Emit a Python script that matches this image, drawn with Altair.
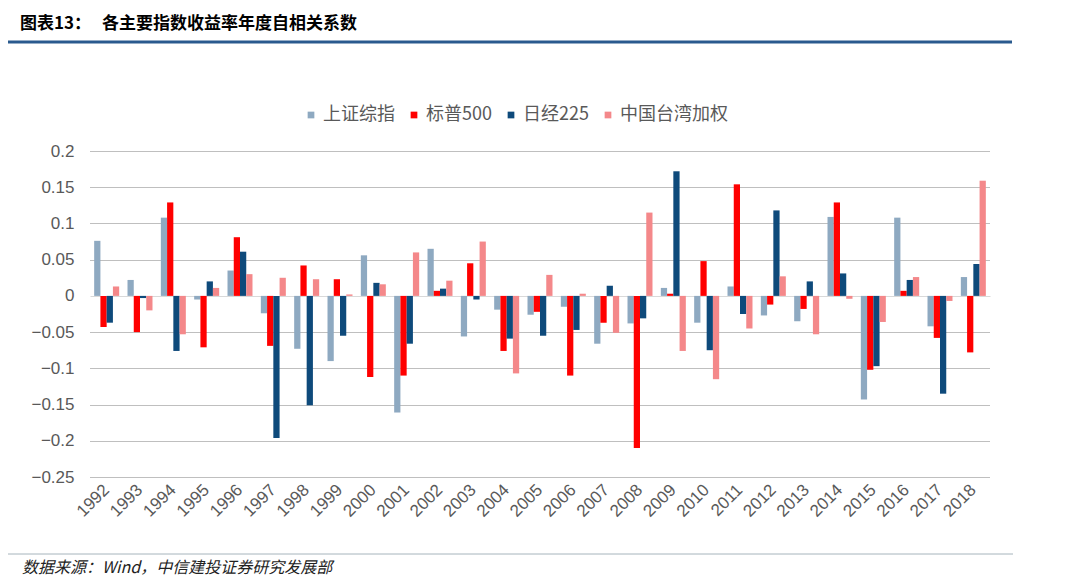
import altair as alt
import pandas as pd

years = [str(y) for y in range(1992, 2019)]
series_names = ["上证综指", "标普500", "日经225", "中国台湾加权"]
series_colors = ["#8EA9C1", "#FF0000", "#0E4A7B", "#F4888A"]

shanghai = [0.076, 0.022, 0.108, -0.005, 0.035, -0.024, -0.073, -0.090, 0.056, -0.161,
            0.065, -0.056, -0.019, -0.026, -0.015, -0.066, -0.038, 0.011, -0.037, 0.013,
            -0.027, -0.035, 0.109, -0.143, 0.108, -0.042, 0.026]
sp500 = [-0.043, -0.050, 0.129, -0.071, 0.081, -0.069, 0.042, 0.023, -0.112, -0.110,
         0.007, 0.045, -0.076, -0.022, -0.110, -0.037, -0.210, 0.003, 0.048, 0.154,
         -0.012, -0.018, 0.129, -0.102, 0.007, -0.058, -0.078]
nikkei = [-0.037, -0.003, -0.076, 0.020, 0.061, -0.196, -0.151, -0.055, 0.018, -0.066,
          0.010, -0.005, -0.059, -0.055, -0.047, 0.014, -0.031, 0.172, -0.075, -0.025,
          0.118, 0.020, 0.031, -0.097, 0.022, -0.135, 0.044]
taiwan = [0.013, -0.020, -0.053, 0.011, 0.030, 0.025, 0.023, 0.002, 0.016, 0.060,
          0.021, 0.075, -0.107, 0.029, 0.003, -0.051, 0.115, -0.076, -0.115, -0.045,
          0.027, -0.053, -0.004, -0.036, 0.026, -0.007, 0.159]

y_ticks = [0.2, 0.15, 0.1, 0.05, 0, -0.05, -0.1, -0.15, -0.2, -0.25]

title_prefix = "图表13："
title_text = "各主要指数收益率年度自相关系数"
source_text = "数据来源：Wind，中信建投证券研究发展部"

rows = []
for name, vals in zip(series_names, [shanghai, sp500, nikkei, taiwan]):
    for yr, v in zip(years, vals):
        rows.append({"year": yr, "series": name, "value": v})
df = pd.DataFrame(rows)

W, H = 900, 326

bars = alt.Chart(df).mark_bar().encode(
    x=alt.X("year:N", sort=years,
            scale=alt.Scale(paddingInner=0.25, paddingOuter=0.125),
            axis=alt.Axis(title=None, labelAngle=-45, labelAlign="right",
                          labelBaseline="middle", labelPadding=10, ticks=False,
                          domain=False, grid=False, labelFont="Liberation Sans",
                          labelFontSize=17, labelColor="#595959")),
    xOffset=alt.XOffset("series:N", sort=series_names,
                        scale=alt.Scale(paddingInner=0, paddingOuter=0)),
    y=alt.Y("value:Q",
            scale=alt.Scale(domain=[-0.25, 0.2], nice=False, zero=False),
            axis=alt.Axis(title=None, values=y_ticks, format="~g",
                          ticks=False, domain=False, labelPadding=16,
                          labelFont="Liberation Sans", labelFontSize=17,
                          labelColor="#595959",
                          grid=True, gridWidth=1,
                          gridColor={"condition": {"test": "datum.value === 0", "value": "#D9D9D9"},
                                     "value": "#7F7F7F"},
                          gridDash={"condition": {"test": "datum.value === 0", "value": []},
                                    "value": [1, 1]})),
    color=alt.Color("series:N", sort=series_names,
                    scale=alt.Scale(domain=series_names, range=series_colors),
                    legend=alt.Legend(title=None, orient="none", direction="horizontal",
                                      legendX=212, legendY=-45, symbolType="square",
                                      symbolSize=45, symbolStrokeWidth=0,
                                      labelFont="Noto Sans CJK SC", labelFontSize=18,
                                      labelColor="#595959", labelOffset=3,
                                      columnPadding=10, padding=0)),
)

title1 = alt.Chart(pd.DataFrame({"t": [title_prefix]})).mark_text(
    align="left", baseline="middle", font="Noto Sans CJK SC", fontSize=17,
    fontWeight="bold", color="#000000"
).encode(text="t:N", x=alt.value(-70), y=alt.value(-127))

title2 = alt.Chart(pd.DataFrame({"t": [title_text]})).mark_text(
    align="left", baseline="middle", font="Noto Sans CJK SC", fontSize=17,
    fontWeight="bold", color="#000000"
).encode(text="t:N", x=alt.value(12), y=alt.value(-127))

top_rule = alt.Chart(pd.DataFrame({"a": [0]})).mark_rule(
    color="#2A5A8E", strokeWidth=3
).encode(x=alt.value(-82), x2=alt.value(922), y=alt.value(-109))

bottom_rule = alt.Chart(pd.DataFrame({"a": [0]})).mark_rule(
    color="#A6B4BC", strokeWidth=1
).encode(x=alt.value(-82), x2=alt.value(923), y=alt.value(403))

source = alt.Chart(pd.DataFrame({"t": [source_text]})).mark_text(
    align="left", baseline="middle", font="Noto Sans CJK SC", fontSize=16,
    fontStyle="italic", color="#222222"
).encode(text="t:N", x=alt.value(-68), y=alt.value(417))

chart = alt.layer(bars, top_rule, bottom_rule, title1, title2, source).properties(
    width=W, height=H,
    background="white",
    autosize=alt.AutoSizeParams(type="none"),
    padding={"left": 82, "top": 143, "right": 82, "bottom": 103},
).configure_view(stroke=None)

chart.save("out.html", embed_options={"renderer": "svg", "actions": False})
